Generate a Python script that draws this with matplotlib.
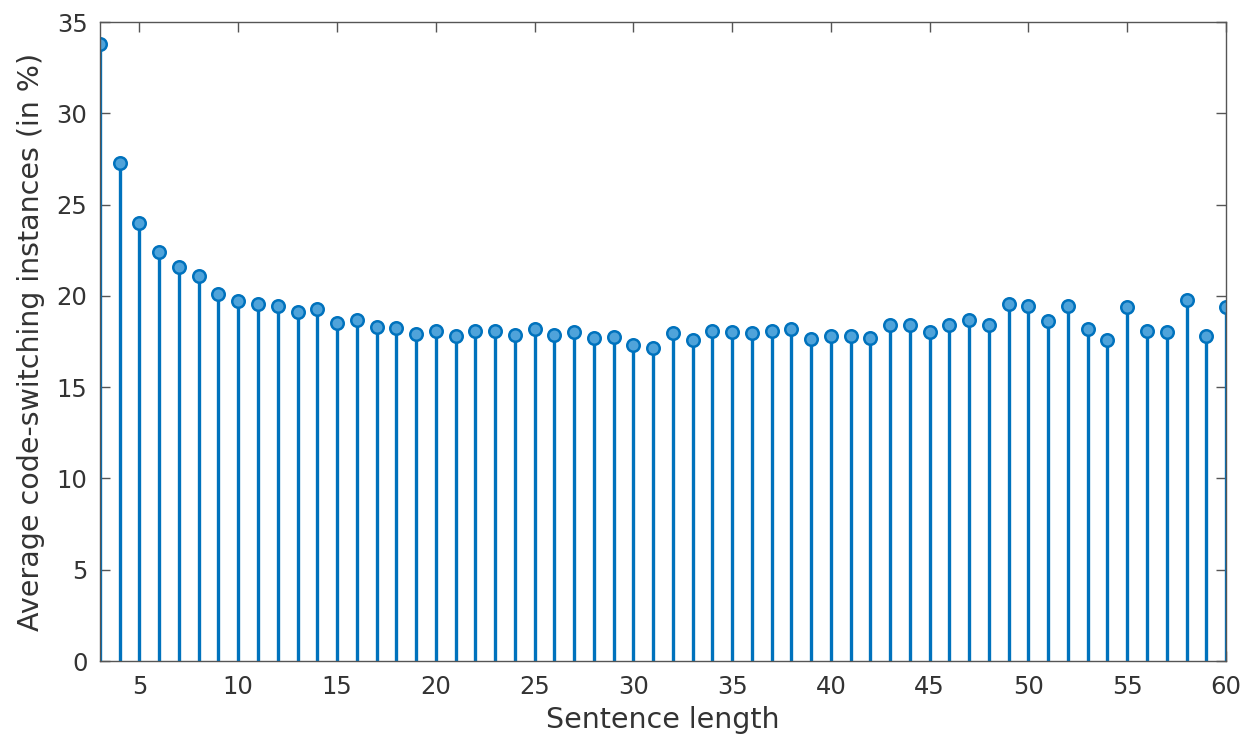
import matplotlib
matplotlib.use("Agg")
import matplotlib.pyplot as plt

# sentence length vs average code-switching share
lengths = list(range(3, 61))
avg_cs = [33.8, 27.3, 24.0, 22.4, 21.6, 21.1, 20.1, 19.7, 19.55, 19.45,
          19.1, 19.3, 18.5, 18.7, 18.3, 18.25, 17.9, 18.1, 17.8, 18.1,
          18.1, 17.85, 18.2, 17.85, 18.0, 17.7, 17.75, 17.3, 17.15, 17.95,
          17.6, 18.1, 18.0, 17.95, 18.05, 18.2, 17.65, 17.8, 17.8, 17.7,
          18.4, 18.4, 18.0, 18.4, 18.7, 18.4, 19.55, 19.45, 18.6, 19.45,
          18.2, 17.6, 19.4, 18.1, 18.0, 19.75, 17.8, 19.4]
xticks = [5, 10, 15, 20, 25, 30, 35, 40, 45, 50, 55, 60]
yticks = [0, 5, 10, 15, 20, 25, 30, 35]

blue = "#0072BD"
txt = "#333333"

fig = plt.figure(figsize=(12.54, 7.37), dpi=100)
ax = fig.add_axes([0.0797, 0.1031, 0.898, 0.867])

markers, stems, base = ax.stem(lengths, avg_cs, basefmt=" ")
plt.setp(stems, color=blue, linewidth=2.4)
plt.setp(markers, color=blue, marker="o", markersize=9,
         markerfacecolor="#4fa3da", markeredgecolor=blue, markeredgewidth=1.8)

ax.set_xlim(3, 60)
ax.set_ylim(0, 35)
ax.set_xticks(xticks)
ax.set_yticks(yticks)
ax.tick_params(direction="in", top=True, right=True, length=7, width=1,
               color="#555555", labelsize=17.5, labelcolor=txt)
ax.tick_params(axis="x", pad=10)
ax.tick_params(axis="y", pad=9)
for s in ax.spines.values():
    s.set_color("#555555")
    s.set_linewidth(1)

ax.set_xlabel("Sentence length", fontsize=20.5, color=txt, labelpad=5)
ax.set_ylabel("Average code-switching instances (in %)", fontsize=20.5,
              color=txt, labelpad=8)

fig.savefig("out.png", dpi=100)
